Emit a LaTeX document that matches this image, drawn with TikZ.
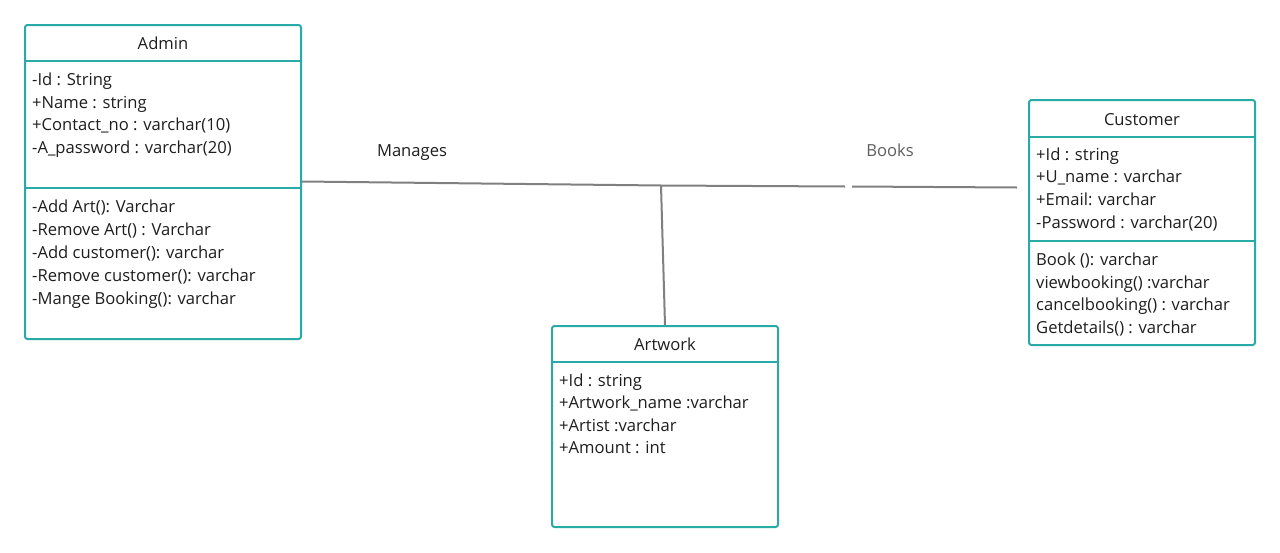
\documentclass[tikz,border=0pt]{standalone}
\usepackage{fontspec}
\setmainfont{Open Sans}
\definecolor{teal1}{RGB}{40,170,166}
\definecolor{txt}{RGB}{30,30,30}
\definecolor{conn}{RGB}{128,128,128}
\definecolor{booksc}{RGB}{95,95,95}
\begin{document}
\begin{tikzpicture}[x=1pt,y=-1pt,
  cls/.style={draw=teal1,line width=2pt,rounded corners=2.5pt,inner sep=0pt},
  sep/.style={draw=teal1,line width=2pt},
  ttl/.style={anchor=base,inner sep=0pt,text=txt,font=\fontsize{16.6}{19}\selectfont},
  itm/.style={anchor=base west,inner sep=0pt,text=txt,font=\fontsize{16.6}{19}\selectfont},
  lbl/.style={anchor=base,inner sep=0pt,font=\fontsize{16.6}{19}\selectfont},
  link/.style={draw=conn,line width=2pt}]
\useasboundingbox (0,0) rectangle (1280,552);
\fill[white] (0,0) rectangle (1280,552);
% Admin
\node[cls,minimum width=276pt,minimum height=314pt] (admin) at (163,182) {};
\draw[sep] (25,61) -- (301,61);
\draw[sep] (25,188) -- (301,188);
\node[ttl] (adminT) at (163,49) {Admin};
\node[itm] (a1) at (32,85) {-Id : String};
\node[itm] (a2) at (32,108) {+Name : string};
\node[itm] (a3) at (32,130.5) {+Contact\_no : varchar(10)};
\node[itm] (a4) at (32,153) {-A\_password : varchar(20)};
\node[itm] (a5) at (32,212.5) {-Add Art(): Varchar};
\node[itm] (a6) at (32,235.5) {-Remove Art() : Varchar};
\node[itm] (a7) at (32,258.5) {-Add customer(): varchar};
\node[itm] (a8) at (32,281.5) {-Remove customer(): varchar};
\node[itm] (a9) at (32,304.5) {-Mange Booking(): varchar};
% Customer
\node[cls,minimum width=226pt,minimum height=245pt] (cust) at (1142,222.5) {};
\draw[sep] (1029,137) -- (1255,137);
\draw[sep] (1029,241) -- (1255,241);
\node[ttl] (custT) at (1142,125) {Customer};
\node[itm] (c1) at (1036,160) {+Id : string};
\node[itm] (c2) at (1036,182.5) {+U\_name : varchar};
\node[itm] (c3) at (1036,205) {+Email: varchar};
\node[itm] (c4) at (1036,228) {-Password : varchar(20)};
\node[itm] (c5) at (1036,265) {Book (): varchar};
\node[itm] (c6) at (1036,288) {viewbooking() :varchar};
\node[itm] (c7) at (1036,310.5) {cancelbooking() : varchar};
\node[itm] (c8) at (1036,333) {Getdetails() : varchar};
% Artwork
\node[cls,minimum width=226pt,minimum height=201pt] (art) at (665,426.5) {};
\draw[sep] (552,362) -- (778,362);
\node[ttl] (artT) at (665,350) {Artwork};
\node[itm] (r1) at (559,386) {+Id : string};
\node[itm] (r2) at (559,408.5) {+Artwork\_name :varchar};
\node[itm] (r3) at (559,431) {+Artist :varchar};
\node[itm] (r4) at (559,453.5) {+Amount : int};
% connectors
\coordinate (aR) at (302,181.5);
\coordinate (junc) at (661,185.5);
\coordinate (gapL) at (845,186.5);
\coordinate (gapR) at (852,186.5);
\coordinate (cL) at (1017,187.5);
\coordinate (artTop) at (665,325);
\draw[link] (aR) -- (junc) -- (gapL);
\draw[link] (gapR) -- (cL);
\draw[link] (junc) -- (artTop);
\node[lbl,text=txt] (manages) at (412,156) {Manages};
\node[lbl,text=booksc] (books) at (890,156) {Books};
\end{tikzpicture}
\end{document}
